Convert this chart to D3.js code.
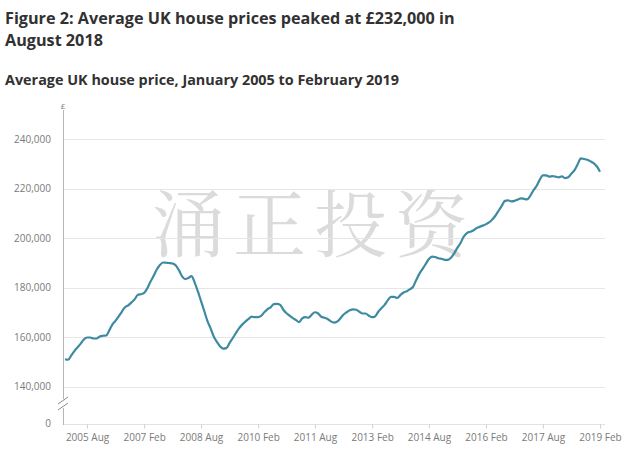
<!DOCTYPE html>
<html>
<head>
<meta charset="utf-8">
<script src="https://cdn.jsdelivr.net/npm/d3@7"></script>
<style>
  html, body { margin: 0; padding: 0; background: #fff; }
  svg { display: block; }
</style>
</head>
<body>
<svg id="chart" width="631" height="450"></svg>
<script>
// ---- Data ----
const startYear = 2005;
const startMonth = 0; // January
const prices = [
  // 2005
  151.0,150.8,152.5,154.3,155.8,157.3,159.0,159.8,159.8,159.4,159.4,160.2,
  // 2006
  160.5,160.6,162.5,165.0,166.5,168.3,170.2,172.0,172.8,173.9,175.2,177.0,
  // 2007
  177.3,177.8,179.5,182.2,184.5,187.2,189.0,190.1,190.0,189.9,189.7,189.0,
  // 2008
  187.0,184.5,183.4,183.8,184.6,182.0,178.5,174.5,170.5,166.5,163.5,160.2,
  // 2009
  158.0,156.2,155.3,155.5,157.5,159.5,161.5,163.5,165.0,166.2,167.3,168.2,
  // 2010
  168.0,168.0,168.5,170.0,171.2,172.0,173.3,173.4,173.0,171.0,169.6,168.6,
  // 2011
  167.6,166.8,166.0,167.5,168.0,167.8,169.0,170.0,169.5,168.2,167.8,167.3,
  // 2012
  166.3,165.8,166.2,167.5,169.0,170.0,170.8,171.2,171.0,170.2,169.5,169.5,
  // 2013
  168.6,168.0,168.3,170.2,171.6,173.0,174.8,176.2,176.2,175.8,177.0,178.0,
  // 2014
  178.5,179.3,180.3,183.0,185.5,187.5,189.5,191.5,192.5,192.3,191.8,191.6,
  // 2015
  191.2,191.2,192.0,193.8,196.0,198.0,200.5,202.0,202.5,203.0,204.0,204.5,
  // 2016
  205.0,205.6,206.3,207.5,209.0,211.0,213.0,215.0,215.2,214.8,215.0,215.5,
  // 2017
  216.0,215.8,215.6,217.0,219.2,221.0,223.5,225.3,225.3,224.8,225.0,224.8,
  // 2018
  224.5,224.9,224.2,224.5,226.0,227.4,229.8,232.2,231.9,231.6,231.0,230.3,
  // 2019
  229.0,226.8
].map(v => v * 1000);

const yTicks = [0, 140000, 160000, 180000, 200000, 220000, 240000];
const xTickLabels = ["2005 Aug","2007 Feb","2008 Aug","2010 Feb","2011 Aug","2013 Feb","2014 Aug","2016 Feb","2017 Aug","2019 Feb"];
const titleLines = ["Figure 2: Average UK house prices peaked at £232,000 in", "August 2018"];
const subtitle = "Average UK house price, January 2005 to February 2019";
const unitLabel = "£";
const watermark = "涌正投资";

// ---- Build ----
const data = prices.map((v, i) => ({ date: new Date(startYear, startMonth + i, 1), value: v }));
const parseTick = d3.timeParse("%Y %b");
const xTickDates = xTickLabels.map(parseTick);

const svg = d3.select("#chart");
const font = "'Open Sans', 'Noto Sans', sans-serif";

const x = d3.scaleTime()
  .domain([data[0].date, data[data.length - 1].date])
  .range([65, 600]);
const y = d3.scaleLinear()
  .domain([0, 140000, 240000])
  .range([423.5, 386.5, 139]);

const plotLeft = 63, plotRight = 605;

// Titles
const t = svg.append("g").attr("font-family", font).attr("font-weight", 700).attr("fill", "#323132");
t.selectAll("text.title").data(titleLines).join("text")
  .attr("class", "title")
  .attr("x", 5).attr("y", (d, i) => 24 + i * 22)
  .attr("font-size", 16.2)
  .text(d => d);
t.append("text").attr("x", 5).attr("y", 85).attr("font-size", 14.4).text(subtitle);

// Watermark
svg.append("text")
  .attr("x", 314).attr("y", 251)
  .attr("text-anchor", "middle")
  .attr("font-family", "'Noto Serif CJK SC', 'Noto Sans CJK SC', serif")
  .attr("font-size", 73)
  .attr("letter-spacing", 8)
  .attr("fill", "#cfcfcf")
  .attr("fill-opacity", 0.75)
  .text(watermark);

// Gridlines
svg.append("g").selectAll("line").data(yTicks.filter(d => d > 0)).join("line")
  .attr("x1", plotLeft).attr("x2", plotRight)
  .attr("y1", d => Math.round(y(d)) + 0.5).attr("y2", d => Math.round(y(d)) + 0.5)
  .attr("stroke", "#e6e6e6").attr("stroke-width", 1);

// Baseline
svg.append("line")
  .attr("x1", plotLeft).attr("x2", plotRight)
  .attr("y1", 424.5).attr("y2", 424.5)
  .attr("stroke", "#e2e2e2");

// Y axis
const yAxis = d3.axisLeft(y).tickValues(yTicks).tickSize(0).tickPadding(12)
  .tickFormat(d3.format(","));
const yg = svg.append("g").attr("transform", `translate(${plotLeft},0)`).call(yAxis);
yg.select(".domain").remove();
yg.selectAll("text").attr("font-family", font).attr("font-size", 10).attr("fill", "#7a7a7a");

// Axis line with break
const axisColor = "#b5b5b5";
svg.append("line").attr("x1", plotLeft + 0.5).attr("x2", plotLeft + 0.5)
  .attr("y1", 110).attr("y2", 399).attr("stroke", axisColor);
svg.append("line").attr("x1", plotLeft + 0.5).attr("x2", plotLeft + 0.5)
  .attr("y1", 408).attr("y2", 425).attr("stroke", axisColor);
svg.append("rect").attr("x", plotLeft - 2).attr("y", 399).attr("width", 4).attr("height", 9).attr("fill", "#fff");
svg.append("path").attr("d", `M${plotLeft - 5},404 L${plotLeft + 5},397 M${plotLeft - 5},410 L${plotLeft + 5},403`)
  .attr("stroke", "#8a8a8a").attr("stroke-width", 1).attr("fill", "none");

// Unit label
svg.append("text").attr("x", plotLeft).attr("y", 109).attr("text-anchor", "middle")
  .attr("font-family", font).attr("font-size", 8).attr("fill", "#7a7a7a").text(unitLabel);

// X axis
const xAxis = d3.axisBottom(x).tickValues(xTickDates).tickSize(4).tickPadding(5)
  .tickFormat((d, i) => xTickLabels[i]);
const xg = svg.append("g").attr("transform", "translate(0,424.5)").call(xAxis);
xg.select(".domain").remove();
xg.selectAll("line").attr("stroke", "#d0d0d0");
xg.selectAll("text").attr("font-family", font).attr("font-size", 10).attr("fill", "#7a7a7a");

// Line
const line = d3.line().x(d => x(d.date)).y(d => y(d.value)).curve(d3.curveMonotoneX);
svg.append("path").datum(data)
  .attr("d", line)
  .attr("fill", "none")
  .attr("stroke", "#3e8aa0")
  .attr("stroke-width", 2.2)
  .attr("stroke-linejoin", "round");
</script>
</body>
</html>
